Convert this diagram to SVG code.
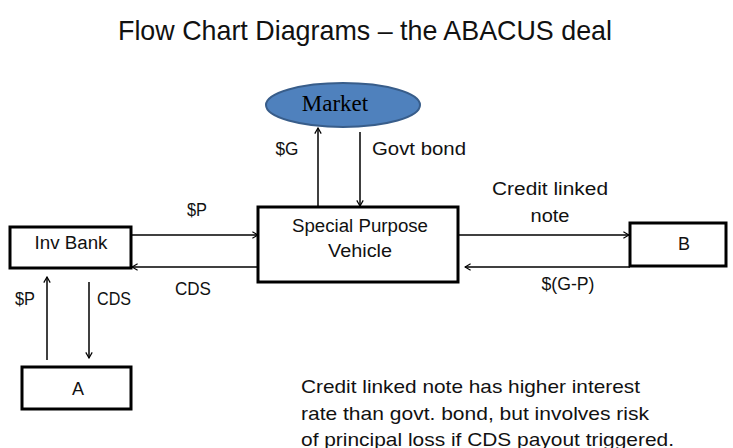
<svg xmlns="http://www.w3.org/2000/svg" width="733" height="448" viewBox="0 0 733 448">
<defs>
<marker id="ah" viewBox="0 0 10 10" refX="9" refY="5" markerWidth="8" markerHeight="8" markerUnits="userSpaceOnUse" orient="auto">
<polyline points="2,1 9,5 2,9" fill="none" stroke="#000" stroke-width="1.5"/>
</marker>
<style>
.box{fill:#fff;stroke:#000;stroke-width:3}
.t{font-family:"Liberation Sans",Arial,sans-serif;font-size:18px;fill:#111}
.c{stroke:#000;stroke-width:1.5;fill:none;marker-end:url(#ah)}
</style>
</defs>
<rect width="733" height="448" fill="#fff"/>
<text x="118" y="40" class="t" style="font-size:28px" textLength="494" lengthAdjust="spacingAndGlyphs">Flow Chart Diagrams – the ABACUS deal</text>

<g id="connectors">
<line class="c" x1="131" y1="235" x2="258" y2="235"/>
<line class="c" x1="258" y1="267" x2="132" y2="267"/>
<line class="c" x1="318" y1="207" x2="318" y2="128"/>
<line class="c" x1="360" y1="132" x2="360" y2="206"/>
<line class="c" x1="458" y1="235" x2="629" y2="235"/>
<line class="c" x1="630" y1="267" x2="465" y2="267"/>
<line class="c" x1="47" y1="360" x2="47" y2="277"/>
<line class="c" x1="89" y1="282" x2="89" y2="358"/>
<text class="t" x="197" y="216" text-anchor="middle" textLength="20" lengthAdjust="spacingAndGlyphs">$P</text>
<text class="t" x="193" y="295" text-anchor="middle" textLength="36" lengthAdjust="spacingAndGlyphs">CDS</text>
<text class="t" x="287" y="155" text-anchor="middle" textLength="23" lengthAdjust="spacingAndGlyphs">$G</text>
<text class="t" x="372" y="155" textLength="94" lengthAdjust="spacingAndGlyphs">Govt bond</text>
<text class="t" x="550" y="195" text-anchor="middle" textLength="116" lengthAdjust="spacingAndGlyphs">Credit linked</text>
<text class="t" x="550" y="222" text-anchor="middle" textLength="39" lengthAdjust="spacingAndGlyphs">note</text>
<text class="t" x="568" y="290" text-anchor="middle" textLength="53" lengthAdjust="spacingAndGlyphs">$(G-P)</text>
<text class="t" x="25" y="305" text-anchor="middle" textLength="20" lengthAdjust="spacingAndGlyphs">$P</text>
<text class="t" x="114" y="305" text-anchor="middle" textLength="34" lengthAdjust="spacingAndGlyphs">CDS</text>
</g>

<g id="market">
<ellipse cx="343" cy="105" rx="77" ry="22" fill="#4f81bd" stroke="#385d8a" stroke-width="2"/>
<text x="335" y="111" text-anchor="middle" style="font-family:'Liberation Serif','Times New Roman',serif;font-size:23px;fill:#000">Market</text>
</g>
<g id="spv">
<rect class="box" x="258" y="207" width="200" height="75"/>
<text class="t" x="360" y="232" text-anchor="middle" textLength="136" lengthAdjust="spacingAndGlyphs">Special Purpose</text>
<text class="t" x="360" y="257" text-anchor="middle" textLength="64" lengthAdjust="spacingAndGlyphs">Vehicle</text>
</g>
<g id="invbank">
<rect class="box" x="10" y="227" width="121" height="41"/>
<text class="t" x="71" y="249" text-anchor="middle" textLength="73" lengthAdjust="spacingAndGlyphs">Inv Bank</text>
</g>
<g id="b">
<rect class="box" x="630" y="223" width="96" height="43"/>
<text class="t" x="684" y="250" text-anchor="middle">B</text>
</g>
<g id="a">
<rect class="box" x="22" y="367" width="109" height="42"/>
<text class="t" x="78" y="395" text-anchor="middle">A</text>
</g>

<g id="note" class="t" style="font-size:19px">
<text x="301" y="393" textLength="339" lengthAdjust="spacingAndGlyphs">Credit linked note has higher interest</text>
<text x="301" y="420" textLength="348" lengthAdjust="spacingAndGlyphs">rate than govt. bond, but involves risk</text>
<text x="301" y="446" textLength="373" lengthAdjust="spacingAndGlyphs">of principal loss if CDS payout triggered.</text>
</g>
</svg>
